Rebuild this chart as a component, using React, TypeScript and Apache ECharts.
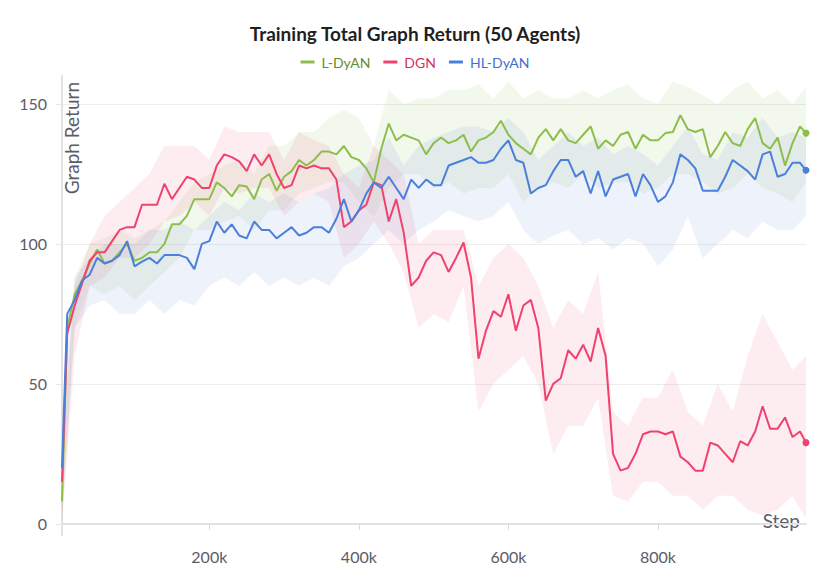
import React, { useEffect, useRef } from "react";
import * as echarts from "echarts";

// ---------- data (steps in thousands) ----------
const STEPS_K = [
  3,
  10, 20, 30, 40, 50, 60, 70, 80, 90, 100,
  110, 120, 130, 140, 150, 160, 170, 180, 190, 200,
  210, 220, 230, 240, 250, 260, 270, 280, 290, 300,
  310, 320, 330, 340, 350, 360, 370, 380, 390, 400,
  410, 420, 430, 440, 450, 460, 470, 480, 490, 500,
  510, 520, 530, 540, 550, 560, 570, 580, 590, 600,
  610, 620, 630, 640, 650, 660, 670, 680, 690, 700,
  710, 720, 730, 740, 750, 760, 770, 780, 790, 800,
  810, 820, 830, 840, 850, 860, 870, 880, 890, 900,
  910, 920, 930, 940, 950, 960, 970, 980, 990,
  998,
];

const L_DYAN = [
  8,
  70, 82, 87, 93, 98, 93, 94, 97, 100, 94,
  95, 97, 97, 100, 107, 107, 110, 116, 116, 116,
  122, 120, 117, 121, 120.5, 116, 123, 125, 119, 124,
  126, 130, 128, 130, 133, 133, 132, 135, 131, 130,
  127, 122, 134, 143, 137, 139, 138, 137, 132, 136,
  138, 136, 137, 139, 133, 137, 138, 140, 144, 139,
  136, 134, 132, 138, 141, 137, 141, 137, 136, 139,
  142, 134, 137, 135, 139, 140, 134, 139, 137, 137,
  139.6, 140, 146, 141, 140, 141, 131, 135, 140, 136,
  135, 141, 145, 136, 134, 138, 128, 136, 142,
  139.6,
];

const DGN = [
  15,
  68, 78, 86, 94, 97, 97, 101, 105, 106, 106,
  114, 114, 114, 121.5, 116, 120, 124, 123, 120, 120,
  128, 132, 131, 129.5, 126, 132, 128, 132, 125, 120,
  121, 128, 127, 128, 127, 127, 123, 106, 108, 112,
  114, 122, 121, 108, 116, 104, 85, 88, 94, 97,
  96, 90, 95, 100.5, 88, 59, 69, 76, 74, 82,
  69, 78, 80, 70, 44, 50, 52, 62, 59, 64,
  58, 70, 60, 25, 19, 20, 25, 32, 33, 33,
  32, 33, 24, 22, 19, 19, 29, 28, 25, 22,
  29.5, 28, 33, 42, 34, 34, 38, 31, 33,
  29,
];

const HL_DYAN = [
  20,
  75, 80, 87, 89, 95, 93, 94, 96, 101, 92,
  93.7, 95, 93, 96, 96, 96, 95, 91, 100, 101,
  108, 104, 107, 103, 102, 108, 105, 105, 102, 104,
  106, 103, 104, 106, 106, 104, 109, 116, 108, 112,
  118, 122, 120, 124, 120, 116, 123, 120, 123, 121,
  121, 128, 129, 130, 131, 129, 129, 130, 134, 137,
  130, 129, 118, 120, 121, 126, 130, 130, 124, 126,
  118, 126, 117, 123, 124, 125, 117, 125, 121, 115,
  117, 122, 132, 130, 127, 119, 119, 119, 124, 130,
  128, 126, 123, 132, 133, 124, 125, 129, 129,
  126.3,
];

// ---------- min/max bands ----------
const BAND_STEPS_K = [
  3, 20, 40, 60, 80, 100, 120, 140, 160, 180, 200,
  220, 240, 260, 280, 300, 320, 340, 360, 380, 400,
  420, 440, 460, 480, 500, 520, 540, 560, 580, 600,
  620, 640, 660, 680, 700, 720, 740, 760, 780, 800,
  820, 840, 860, 880, 900, 920, 940, 960, 980, 998,
];

const L_DYAN_LOW = [
  0, 70, 85, 82, 85, 80, 85, 90, 95, 105, 105,
  108, 110, 105, 112, 112, 118, 120, 122, 122, 115,
  110, 120, 125, 125, 120, 122, 118, 120, 120, 125,
  115, 120, 122, 120, 125, 120, 122, 122, 118, 120,
  125, 125, 122, 118, 120, 125, 120, 118, 115, 122,
];
const L_DYAN_HIGH = [
  20, 88, 100, 102, 105, 102, 105, 108, 115, 122, 125,
  128, 130, 125, 135, 135, 140, 140, 145, 148, 145,
  135, 155, 150, 152, 152, 155, 155, 157, 152, 158,
  152, 155, 152, 152, 155, 152, 155, 157, 152, 150,
  158, 156, 153, 150, 155, 158, 152, 155, 150, 156,
];

const DGN_LOW = [
  0, 60, 85, 88, 95, 95, 100, 108, 110, 115, 110,
  120, 118, 120, 120, 110, 115, 118, 115, 95, 100,
  108, 100, 90, 70, 75, 72, 85, 40, 50, 55,
  60, 50, 25, 35, 35, 45, 10, 8, 15, 15,
  10, 10, 5, 10, 10, 5, 3, 5, 10, 2,
];
const DGN_HIGH = [
  30, 85, 100, 110, 115, 120, 125, 135, 135, 135, 130,
  142, 140, 140, 140, 130, 140, 137, 135, 125, 120,
  135, 130, 125, 100, 105, 105, 105, 85, 95, 100,
  95, 85, 70, 80, 75, 90, 40, 35, 45, 45,
  55, 40, 35, 50, 40, 60, 75, 65, 55, 60,
];

const HL_DYAN_LOW = [
  5, 70, 78, 80, 75, 75, 80, 75, 80, 78, 85,
  88, 85, 90, 85, 88, 85, 88, 85, 92, 95,
  100, 105, 100, 105, 108, 112, 110, 108, 110, 115,
  105, 100, 103, 105, 100, 102, 98, 102, 100, 92,
  98, 110, 95, 100, 105, 102, 108, 105, 105, 110,
];
const HL_DYAN_HIGH = [
  40, 88, 95, 100, 100, 100, 105, 105, 108, 105, 110,
  115, 112, 118, 115, 118, 115, 118, 120, 125, 128,
  130, 138, 128, 135, 138, 140, 142, 142, 140, 145,
  140, 130, 135, 140, 135, 138, 132, 135, 132, 128,
  135, 142, 132, 130, 140, 138, 145, 138, 140, 138,
];

const X_TICKS = [200000, 400000, 600000, 800000];
const Y_TICKS = [0, 50, 100, 150];

const TITLE = "Training Total Graph Return (50 Agents)";
const FONT = "Lato, 'Noto Sans', sans-serif";
const AXIS_TEXT = "#5c5c68";

const SERIES = [
  { name: "L-DyAN", values: L_DYAN, low: L_DYAN_LOW, high: L_DYAN_HIGH, color: "#8dbe4c", text: "#5f8d2e", bandOpacity: 0.1 },
  { name: "DGN", values: DGN, low: DGN_LOW, high: DGN_HIGH, color: "#f0426e", text: "#d0325c", bandOpacity: 0.1 },
  { name: "HL-DyAN", values: HL_DYAN, low: HL_DYAN_LOW, high: HL_DYAN_HIGH, color: "#4a7fdc", text: "#3d6fd0", bandOpacity: 0.1 },
];

function bandSeries(s: any) {
  return {
    name: s.name + " band",
    type: "custom",
    silent: true,
    z: 1,
    data: BAND_STEPS_K.map((k, i) => [k * 1000, s.low[i], s.high[i]]),
    encode: { x: 0, y: [1, 2] },
    renderItem: (params: any, api: any) => {
      if (params.dataIndexInside !== 0) return null;
      const n = params.dataInsideLength;
      const top: number[][] = [];
      const bottom: number[][] = [];
      for (let j = 0; j < n; j++) {
        const x = api.value(0, j);
        top.push(api.coord([x, api.value(2, j)]));
        bottom.push(api.coord([x, api.value(1, j)]));
      }
      return {
        type: "polygon",
        shape: { points: top.concat(bottom.reverse()) },
        style: { fill: s.color, opacity: s.bandOpacity },
        silent: true,
      };
    },
  };
}

function lineSeries(s: any) {
  const last = s.values.length - 1;
  return {
    name: s.name,
    type: "line",
    z: 3,
    data: STEPS_K.map((k, i) => [k * 1000, s.values[i]]),
    symbol: "circle",
    symbolSize: (_v: any, p: any) => (p.dataIndex === last ? 7 : 0),
    showSymbol: true,
    showAllSymbol: true,
    lineStyle: { color: s.color, width: 2 },
    itemStyle: { color: s.color },
    emphasis: { disabled: true },
  };
}

export default function App() {
  const ref = useRef<HTMLDivElement>(null);
  useEffect(() => {
    if (!ref.current) return;
    const chart = echarts.init(ref.current, null, { renderer: "svg" });
    chart.setOption({
      animation: false,
      backgroundColor: "#ffffff",
      title: {
        text: TITLE,
        left: "center",
        top: 19,
        textStyle: { fontFamily: FONT, fontSize: 19, fontWeight: "bold", color: "#1f1f1f" },
      },
      legend: {
        top: 50,
        left: "center",
        icon: "rect",
        itemWidth: 14,
        itemHeight: 3,
        itemGap: 13,
        data: SERIES.map((s) => ({ name: s.name, textStyle: { color: s.text } })),
        textStyle: { fontFamily: FONT, fontSize: 14, padding: [0, 0, 0, 2] },
      },
      grid: { left: 62, right: 24, top: 76, bottom: 52, containLabel: false },
      xAxis: {
        type: "value",
        min: STEPS_K[0] * 1000,
        max: STEPS_K[STEPS_K.length - 1] * 1000,
        name: "Step",
        nameLocation: "end",
        nameGap: -6,
        nameTextStyle: { align: "right", verticalAlign: "bottom", lineHeight: 6, fontFamily: FONT, fontSize: 19, color: AXIS_TEXT },
        axisLine: { show: true, lineStyle: { color: "#e2e2e2", width: 2 } },
        axisTick: { show: true, customValues: X_TICKS, length: 6, lineStyle: { color: "#dadada" } },
        axisLabel: {
          customValues: X_TICKS,
          formatter: (v: number) => v / 1000 + "k",
          color: AXIS_TEXT,
          fontFamily: FONT,
          fontSize: 16,
          margin: 13,
        },
        splitLine: { show: false },
      },
      yAxis: {
        type: "value",
        min: -4,
        max: 160,
        name: "Graph Return",
        nameLocation: "end",
        nameRotate: 90,
        nameGap: -6,
        nameTextStyle: { align: "right", verticalAlign: "top", fontFamily: FONT, fontSize: 19, color: AXIS_TEXT, padding: [0, 0, 0, 3] },
        axisLine: { show: true, lineStyle: { color: "#e2e2e2", width: 2 } },
        axisTick: { show: true, customValues: Y_TICKS, length: 6, lineStyle: { color: "#e6e6e6" } },
        axisLabel: { customValues: Y_TICKS, color: AXIS_TEXT, fontFamily: FONT, fontSize: 16, margin: 15 },
        splitLine: { show: true, lineStyle: { color: "#ededed", width: 1 } },
      },
      series: [...SERIES.map(bandSeries), ...SERIES.map(lineSeries)],
    });
    return () => chart.dispose();
  }, []);
  return (
    <div
      ref={ref}
      style={{ position: "fixed", left: 0, top: 0, width: 830, height: 587, background: "#fff" }}
    />
  );
}
